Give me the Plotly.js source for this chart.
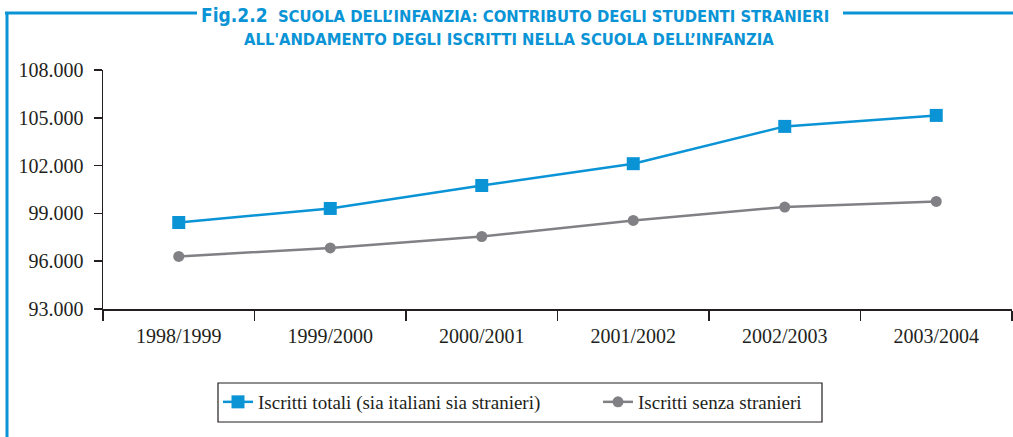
<!DOCTYPE html>
<html>
<head>
<meta charset="utf-8">
<script src="https://cdn.plot.ly/plotly-3.0.1.min.js"></script>
<style>html,body{margin:0;padding:0;background:#fff;}#chart{width:1013px;height:437px;}</style>
</head>
<body>
<div id="chart"></div>
<script>
const categories = ['1998/1999', '1999/2000', '2000/2001', '2001/2002', '2002/2003', '2003/2004'];
const totaliValues = [98430, 99310, 100750, 102120, 104460, 105150];
const senzaStranieriValues = [96300, 96830, 97550, 98560, 99400, 99750];
const seriesNames = ['Iscritti totali (sia italiani sia stranieri)', 'Iscritti senza stranieri'];
const yTickValues = [93000, 96000, 99000, 102000, 105000, 108000];

const W = 1013, H = 437, L = 103, R = 1, T = 70, B = 128;
const PW = W - L - R, PH = H - T - B;
const px = v => (v - L) / PW;
const py = v => (H - B - v) / PH;

const BLUE = '#0a94d6';
const GRAY = '#818185';
const TXT = '#231f20';
const SERIF = 'Liberation Serif, DejaVu Serif, serif';

const traces = [
  {
    x: categories, y: totaliValues, name: seriesNames[0], type: 'scatter', mode: 'lines+markers',
    line: {color: BLUE, width: 2.5}, marker: {symbol: 'square', size: 13, color: BLUE}
  },
  {
    x: categories, y: senzaStranieriValues, name: seriesNames[1], type: 'scatter', mode: 'lines+markers',
    line: {color: GRAY, width: 2.5}, marker: {symbol: 'circle', size: 11, color: GRAY}
  }
];

const titleFont = {family: 'DejaVu Sans Condensed, DejaVu Sans, sans-serif', size: 16.5, color: BLUE};

const layout = {
  width: W, height: H,
  margin: {l: L, r: R, t: T, b: B, autoexpand: false},
  paper_bgcolor: '#fff', plot_bgcolor: '#fff',
  separators: ',.',
  font: {family: SERIF, size: 20, color: TXT},
  showlegend: true,
  legend: {
    orientation: 'h', x: px(218), y: py(383), xanchor: 'left', yanchor: 'top',
    borderwidth: 0, bgcolor: 'rgba(0,0,0,0)',
    font: {family: SERIF, size: 19, color: TXT},
    entrywidth: 335, entrywidthmode: 'pixels', itemwidth: 30
  },
  xaxis: {
    type: 'category', range: [-0.5, 5.5], autorange: false, showgrid: false, zeroline: false,
    showline: true, linecolor: '#231f20', linewidth: 1.5,
    ticks: 'outside', tickson: 'boundaries', ticklen: 10, tickwidth: 1.5, tickcolor: '#231f20',
    ticklabelstandoff: 8,
    tickfont: {family: SERIF, size: 20, color: TXT}
  },
  yaxis: {
    range: [93000, 108000], autorange: false, showgrid: false, zeroline: false,
    showline: true, linecolor: '#231f20', linewidth: 1.5,
    ticks: 'outside', ticklen: 8, tickwidth: 1.5, tickcolor: '#231f20',
    tickvals: yTickValues, tickformat: ',d', ticklabelstandoff: 6,
    tickfont: {family: SERIF, size: 20, color: TXT}
  },
  annotations: [
    {
      xref: 'paper', yref: 'paper', x: px(515), y: py(15), xanchor: 'center', yanchor: 'middle',
      showarrow: false, font: titleFont,
      text: '<b><span style="font-size:19px">Fig.2.2</span>&nbsp;&nbsp;SCUOLA DELL’INFANZIA: CONTRIBUTO DEGLI STUDENTI STRANIERI</b>'
    },
    {
      xref: 'paper', yref: 'paper', x: px(509), y: py(39), xanchor: 'center', yanchor: 'middle',
      showarrow: false, font: titleFont,
      text: "<b>ALL'ANDAMENTO DEGLI ISCRITTI NELLA SCUOLA DELL’INFANZIA</b>"
    }
  ],
  shapes: [
    {type: 'line', xref: 'paper', yref: 'paper', x0: px(5), x1: px(197), y0: py(13), y1: py(13), line: {color: BLUE, width: 3}},
    {type: 'line', xref: 'paper', yref: 'paper', x0: px(843), x1: px(1013), y0: py(13), y1: py(13), line: {color: BLUE, width: 3}},
    {type: 'line', xref: 'paper', yref: 'paper', x0: px(7), x1: px(7), y0: py(12), y1: py(437), line: {color: BLUE, width: 3}},
    {type: 'rect', xref: 'paper', yref: 'paper', x0: px(218), x1: px(822), y0: py(383), y1: py(422), line: {color: '#231f20', width: 1.2}, fillcolor: 'rgba(0,0,0,0)', layer: 'below'}
  ]
};

Plotly.newPlot('chart', traces, layout, {displayModeBar: false, staticPlot: true});
</script>
</body>
</html>
